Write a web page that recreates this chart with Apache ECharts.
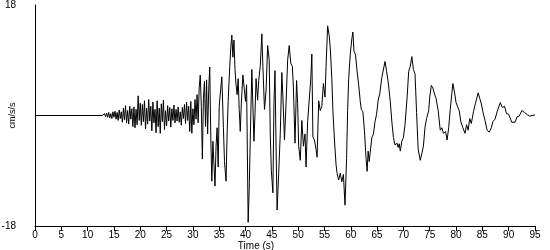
<!DOCTYPE html>
<html>
<head>
<meta charset="utf-8">
<script src="https://cdn.jsdelivr.net/npm/echarts@6/dist/echarts.min.js"></script>
<style>html,body{margin:0;padding:0;background:#fff}#c{width:550px;height:250px}</style>
</head>
<body>
<div id="c"></div>
<script>
var timeS = [0,12.8,13.2,13.4,13.6,13.8,14.0,14.2,14.4,14.6,14.8,15.0,15.2,15.4,15.6,15.8,16.0,16.2,16.4,16.6,16.8,17.0,17.2,17.4,17.6,17.8,18.0,18.2,18.4,18.6,18.8,19.0,19.2,19.4,19.6,19.8,20.0,20.2,20.4,20.6,20.8,21.0,21.2,21.4,21.6,21.8,22.0,22.2,22.4,22.6,22.8,23.0,23.2,23.4,23.6,23.8,24.0,24.2,24.4,24.6,24.8,25.0,25.2,25.4,25.6,25.8,26.0,26.2,26.4,26.6,26.8,27.0,27.2,27.4,27.6,27.8,28.0,28.2,28.4,28.6,28.8,29.0,29.2,29.4,29.6,29.8,30.0,30.2,30.4,30.6,30.8,31.0,31.2,31.4,31.6,31.8,32.0,32.2,32.4,32.6,32.8,33.0,33.2,33.4,33.6,33.8,34.0,34.2,34.4,34.6,34.8,35.0,35.2,35.5,35.8,36.0,36.3,36.5,36.7,37.0,37.2,37.4,37.6,37.8,38.0,38.2,38.4,38.6,38.8,39.0,39.2,39.5,39.8,40.0,40.2,40.5,40.7,40.9,41.2,41.4,41.6,41.8,42.0,42.3,42.5,42.8,43.1,43.3,43.6,43.9,44.2,44.5,44.7,44.9,45.2,45.4,45.6,45.8,46.0,46.3,46.6,46.9,47.1,47.4,47.7,48.0,48.3,48.6,48.9,49.1,49.4,49.7,49.9,50.1,50.4,50.7,51.0,51.3,51.5,51.8,52.1,52.4,52.6,52.8,53.1,53.4,53.6,53.9,54.2,54.5,54.8,55.1,55.3,55.6,55.9,56.1,56.4,56.6,56.9,57.2,57.4,57.7,58.0,58.3,58.6,58.9,59.2,59.4,59.6,59.9,60.2,60.4,60.6,60.9,61.2,61.5,61.8,62.0,62.3,62.6,62.9,63.1,63.3,63.5,63.7,64.0,64.3,64.6,64.9,65.2,65.5,65.9,66.2,66.5,66.8,67.1,67.5,67.8,68.1,68.4,68.8,69.0,69.2,69.4,69.7,70.0,70.3,70.7,71.0,71.3,71.6,71.9,72.2,72.5,72.8,73.2,73.5,73.8,74.1,74.4,74.8,75.0,75.3,75.6,75.9,76.2,76.6,77.0,77.3,77.6,78.0,78.3,78.6,78.9,79.2,79.4,79.7,80.0,80.3,80.6,80.9,81.3,81.7,82.0,82.3,82.6,82.9,83.3,83.7,84.2,84.5,84.8,85.1,85.5,85.9,86.3,86.7,87.0,87.4,87.8,88.4,88.8,89.2,89.6,90.0,90.6,91.2,91.6,92.0,92.5,93.0,93.6,94.0,95.0];
var accel = [0,0,0.3,-0.2,0.4,-0.3,0.5,-0.4,0.3,-0.5,0.6,-0.3,0.7,-0.6,0.5,-0.8,0.9,-0.5,0.6,-1.1,1.2,-0.7,1.6,-1.2,0.8,-1.4,1.5,-0.6,1.1,-1.8,1.4,-2.0,1.0,-1.5,3.2,-0.8,2.0,-1.6,1.8,-1.0,2.4,-2.2,1.2,-1.4,2.6,-0.9,1.5,-2.5,2.2,-1.2,1.0,-2.8,2.4,-1.8,1.2,-2.9,1.9,-1.0,2.5,-2.3,0.8,-1.7,1.6,-0.9,1.3,-1.9,1.1,-0.8,1.7,-1.2,1.0,-0.9,1.4,-1.1,0.6,-1.6,1.3,-0.5,1.8,-1.3,2.2,-0.8,1.5,-2.6,2.3,-2.9,1.1,-1.5,2.6,-0.6,3.4,-1.2,4.5,6.6,1.5,-7.1,2.8,5.6,-1.8,5.8,-3.0,4.0,7.9,-3.5,-10.7,-4.2,-8.0,-11.5,-5.0,-2.0,-8.4,1.5,3.5,6.3,-2.0,-7.5,-10.7,-3.0,2.3,8.0,11.0,13.1,9.5,12.3,7.5,5.0,3.4,6.0,1.0,-2.6,2.0,6.6,4.0,2.3,5.0,-17.4,-12.0,-4.0,7.5,7.6,-4.2,0.3,6.0,2.5,5.7,8.0,13.3,8.0,1.0,4.0,11.4,9.0,-3.0,-8.9,-12.6,2.0,7.3,-5.0,-15.4,-9.5,-3.0,7.0,3.0,-4.0,2.0,9.0,11.4,8.5,8.0,4.5,-4.5,5.7,2.0,-5.0,-7.3,-0.8,-5.0,-3.0,-8.4,-1.0,-0.8,6.0,10.0,-3.5,-4.0,-5.5,-6.8,2.4,0.8,1.5,5.2,3.0,8.0,14.6,13.0,11.0,6.0,0.8,-4.0,-8.0,-9.4,-10.5,-9.4,-10.8,-9.6,-14.6,-7.0,0.8,6.0,10.0,12.5,13.6,10.5,9.9,7.2,5.0,2.3,1.0,0.6,-2.5,-7.0,-9.1,-5.8,-7.5,-7.8,-3.6,-3.0,-1.0,0.2,2.5,3.5,6.2,6.5,8.8,7.2,5.5,2.3,-1.0,-3.6,-4.8,-4.5,-5.2,-4.6,-5.8,-4.2,-3.6,-1.5,2.9,7.2,8.0,9.6,7.5,6.8,0.5,-5.5,-7.3,-6.2,-5.0,-1.9,-0.5,0.8,3.0,4.9,4.5,3.5,2.8,0.8,-2.4,-2.0,-2.9,-2.6,-4.0,-2.0,1.0,3.6,5.2,3.8,2.1,1.4,0.8,-1.0,-2.0,-2.9,-1.5,-2.4,-0.5,-1.3,0.6,2.0,3.7,2.8,1.9,0.6,-0.8,-2.4,-2.7,-2.0,-1.0,-0.6,0.6,2.1,1.3,1.5,0.3,0.2,-1.1,-1.1,-0.2,-0.1,0.8,0.5,0.1,-0.1,0.1];
var xTitle = 'Time (s)';
var yTitle = 'cm/s/s';

var pts = timeS.map(function (t, i) { return [t, accel[i]]; });
var chart = echarts.init(document.getElementById('c'));
var font = 'Liberation Sans, Arial, sans-serif';
chart.setOption({
  animation: false,
  backgroundColor: '#fff',
  grid: { left: 35, right: 15, top: 5, bottom: 24, containLabel: false, outerBoundsMode: 'none' },
  xAxis: {
    type: 'value', min: 0, max: 95, interval: 5,
    name: xTitle, nameLocation: 'middle', nameGap: 15, nameMoveOverlap: false,
    nameTextStyle: { color: '#000', fontSize: 10, fontFamily: font, padding: [0, 58, 0, 0] },
    axisLine: { show: true, onZero: false, lineStyle: { color: '#000', width: 1 } },
    axisTick: { show: true, length: 5, lineStyle: { color: '#000' } },
    axisLabel: { color: '#000', fontSize: 10, fontFamily: font, margin: 4 },
    splitLine: { show: false }
  },
  yAxis: {
    type: 'value', min: -18, max: 18, interval: 18,
    name: yTitle, nameLocation: 'middle', nameGap: 18, nameRotate: 90, nameMoveOverlap: false,
    nameTextStyle: { color: '#000', fontSize: 9, fontFamily: font },
    axisLine: { show: true, lineStyle: { color: '#000', width: 1 } },
    axisTick: { show: false },
    axisLabel: { color: '#000', fontSize: 10, fontFamily: font, margin: 19,
      formatter: function (v) { return v === 0 ? '' : String(v); } },
    splitLine: { show: false }
  },
  series: [{
    type: 'line', data: pts, symbol: 'none',
    lineStyle: { color: '#000', width: 1 }
  }]
});
</script>
</body>
</html>
